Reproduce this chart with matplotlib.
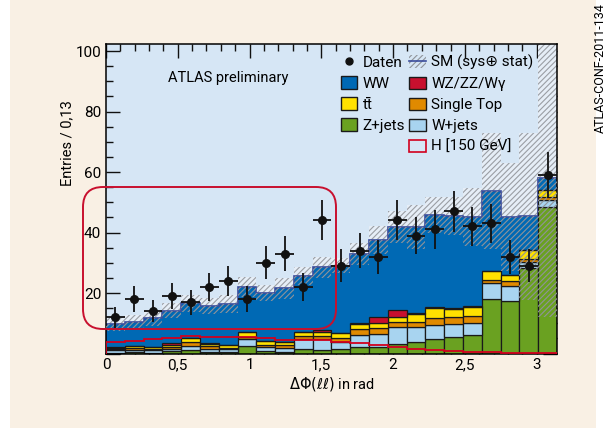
import numpy as np
import matplotlib.pyplot as plt
from matplotlib.patches import Patch, Rectangle, FancyBboxPatch
from matplotlib.lines import Line2D
from matplotlib.ticker import MultipleLocator, FuncFormatter

plt.rcParams['font.family'] = ['Roboto', 'DejaVu Sans']
plt.rcParams['mathtext.fontset'] = 'dejavusans'
plt.rcParams['hatch.linewidth'] = 0.8

# 24 bins over 0..pi  (Entries / 0,13)
edges = np.linspace(0, np.pi, 25)

data = [12, 18, 14, 19, 17, 22, 24, 18, 30, 33, 22, 44,
        29, 34, 32, 44, 39, 41, 47, 42, 43, 32, 29, 59]

zjets = [0.3, 0.4, 0.3, 0.7, 1.1, 0.6, 0.5, 2.5, 0.8, 0.6, 1.4, 1.2,
         1.6, 2.2, 2.2, 3.0, 3.9, 4.7, 5.3, 6.1, 17.9, 17.4, 28.4, 48.5]
wjets = [0.8, 0.8, 0.8, 0.9, 1.4, 1.0, 0.9, 2.4, 1.3, 1.3, 3.4, 3.5,
         2.2, 4.0, 4.4, 5.9, 4.8, 4.7, 4.5, 4.1, 5.3, 4.9, 2.0, 2.2]
stop = [0.3, 0.5, 0.4, 0.5, 1.3, 0.8, 0.5, 0.6, 0.8, 0.8, 0.9, 1.2,
        1.2, 1.8, 1.7, 1.6, 1.7, 2.2, 2.2, 2.2, 1.1, 1.7, 0.8, 1.1]
ttbar = [0.5, 0.7, 0.7, 0.8, 1.2, 0.9, 0.8, 1.6, 1.1, 1.1, 1.4, 1.2,
         1.7, 1.9, 1.8, 1.6, 2.7, 3.3, 2.6, 3.1, 3.0, 2.0, 3.0, 2.2]
wz = [0.1, 0.1, 0.1, 0.5, 0.2, 0.1, 0.1, 0.1, 0.1, 0.1, 0.1, 0.7,
      0.1, 0.2, 2.0, 2.4, 0.4, 0.5, 0.3, 0.2, 0.1, 0.1, 0.0, 0.0]
ww = [7.8, 8.0, 9.3, 10.8, 11.4, 12.3, 13.5, 14.8, 15.8, 17.6, 18.4, 20.7,
      22.2, 22.8, 25.4, 27.2, 28.2, 30.4, 30.6, 29.5, 26.3, 19.1, 11.1, 4.0]
sm_unc = [2.3, 2.2, 2.4, 2.6, 2.8, 2.8, 2.9, 3.4, 2.6, 3.5, 3.1, 3.4,
          2.5, 3.6, 4.5, 5.3, 7.3, 6.0, 6.3, 9.5, 19.3, 17.8, 27.7, 46.0]
higgs = [3.8, 4.0, 4.8, 5.2, 5.8, 5.6, 5.6, 5.5, 5.1, 4.6, 4.5, 4.3,
         3.9, 3.4, 2.7, 2.0, 1.5, 1.2, 0.8, 0.6, 0.4, 0.2, 0.1, 0.1]

fig = plt.figure(figsize=(6.11, 4.32), dpi=100)
fig.patch.set_facecolor('white')
fig.add_artist(Rectangle((10 / 611, 4 / 432), 586 / 611, 428 / 432,
                         transform=fig.transFigure, facecolor='#f9f0e4',
                         edgecolor='none', zorder=0))

ax = fig.add_axes([0.1735, 0.1817, 0.7381, 0.7163])
ax.set_facecolor('#d6e6f5')

w = np.diff(edges)
left = edges[:-1]
centers = left + w / 2

bottom = np.zeros(len(left))
small = [(zjets, '#6aa121'), (wjets, '#a8d4f0'), (stop, '#e08a00'),
         (ttbar, '#ffe100'), (wz, '#c8102e')]
for vals, col in small:
    vals = np.array(vals)
    ax.bar(left, vals, width=w, bottom=bottom, align='edge', color=col,
           edgecolor='#1a1a1a', linewidth=0.9, zorder=2.2)
    bottom = bottom + vals

ax.bar(left, ww, width=w, bottom=bottom, align='edge', color='#0069b4',
       linewidth=0, zorder=2)
total = bottom + np.array(ww)

# SM uncertainty band: pale above the stack, hatch only over it
unc = np.array(sm_unc)
ax.bar(left, unc, width=w, bottom=total, align='edge', facecolor='#e6eef7',
       hatch='//////', edgecolor='#9a9ea4', linewidth=0, zorder=1.9)
ax.bar(left, unc, width=w, bottom=total - unc, align='edge', fill=False,
       hatch='//////', edgecolor='#8f9399', linewidth=0, zorder=3)
ax.stairs(total, edges, color='#3b4d9c', lw=1.2, zorder=2.1)

ax.stairs(higgs, edges, color='#d2001e', lw=1.3, zorder=4)

ax.errorbar(centers, data, yerr=np.sqrt(data), xerr=w / 2, fmt='o',
            color='#111111', ms=5.5, lw=1.3, capsize=0, zorder=5)

ax.set_xlim(0, np.pi)
ax.set_ylim(0, 102.3)
ax.xaxis.set_major_locator(MultipleLocator(0.5))
ax.xaxis.set_minor_locator(MultipleLocator(0.1))
ax.yaxis.set_major_locator(MultipleLocator(20))
ax.yaxis.set_minor_locator(MultipleLocator(5))
ax.xaxis.set_major_formatter(FuncFormatter(lambda v, p: f'{v:g}'.replace('.', ',')))
ax.yaxis.set_major_formatter(FuncFormatter(lambda v, p: '' if v == 0 else f'{v:g}'))
ax.tick_params(which='both', direction='in', top=True, right=True,
               labelsize=11, width=1.0, color='#111111')
ax.tick_params(which='major', length=10)
ax.tick_params(which='minor', length=5)
for s in ax.spines.values():
    s.set_linewidth(1.1)

ax.set_xlabel(r'$\Delta\mathit{\Phi}(\mathit{\ell\ell})$ in rad', fontsize=10.5, labelpad=2)
ax.set_ylabel('Entries / 0,13', fontsize=10.5)
ax.yaxis.set_label_coords(-0.07, 0.68)

ax.text(0.137, 0.89, 'ATLAS preliminary', transform=ax.transAxes,
        fontsize=10.5, va='center', ha='left')

handles = [
    Line2D([], [], marker='o', color='#111111', ls='none', ms=5),
    Patch(facecolor='#0069b4', edgecolor='#1a1a1a'),
    Patch(facecolor='#ffe100', edgecolor='#1a1a1a'),
    Patch(facecolor='#6aa121', edgecolor='#1a1a1a'),
    Patch(facecolor='none', edgecolor='none'),
    (Patch(facecolor='none', edgecolor='#8f9399', hatch='//////', linewidth=0),
     Line2D([], [], color='#3b4d9c', lw=1.2)),
    Patch(facecolor='#c8102e', edgecolor='#1a1a1a'),
    Patch(facecolor='#e08a00', edgecolor='#1a1a1a'),
    Patch(facecolor='#a8d4f0', edgecolor='#1a1a1a'),
    Patch(facecolor='none', edgecolor='#d2001e', linewidth=1.2),
]
labels = ['Daten', 'WW', 'tt\u0304', 'Z+jets', '',
          'SM (sys\u2295 stat)', 'WZ/ZZ/W\u03b3', 'Single Top', 'W+jets',
          'H [150 GeV]']
ax.legend(handles, labels, ncol=2, loc='upper left',
          bbox_to_anchor=(0.52, 0.965), frameon=False, fontsize=11,
          handlelength=1.1, handleheight=0.9, handletextpad=0.35,
          columnspacing=0.25, labelspacing=0.42, borderaxespad=0,
          borderpad=0)

fig.add_artist(FancyBboxPatch((0.83, 1.03), 2.53, 1.42,
                              boxstyle='round,pad=0,rounding_size=0.2',
                              transform=fig.dpi_scale_trans, facecolor='none',
                              edgecolor='#c8102e', linewidth=1.4, zorder=6))

fig.text(600 / 611, 1 - 68 / 432, 'ATLAS-CONF-2011-134', rotation=90,
         ha='center', va='center', fontsize=9)

fig.savefig('out.png', dpi=100)
